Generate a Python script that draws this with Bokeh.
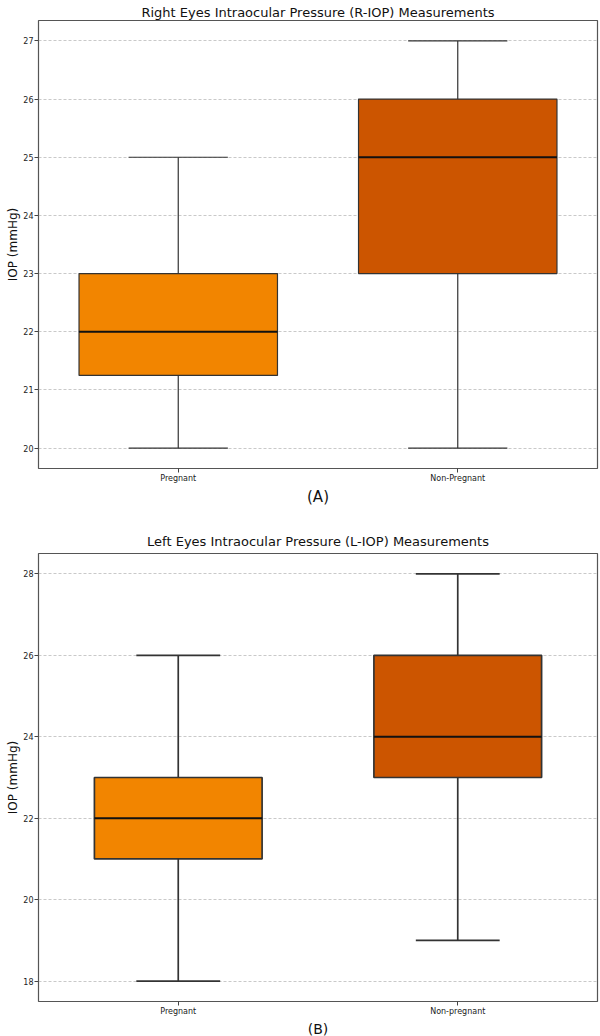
from bokeh.plotting import figure
from bokeh.layouts import column
from bokeh.models import Range1d, FixedTicker, Title
from bokeh.embed import file_html
from bokeh.resources import INLINE

# Panel A: Right eyes
cats_a = ["Pregnant", "Non-Pregnant"]
low_a = [20, 20]
q1_a = [21.25, 23]
med_a = [22, 25]
q3_a = [23, 26]
high_a = [25, 27]
yticks_a = [20, 21, 22, 23, 24, 25, 26, 27]

# Panel B: Left eyes
cats_b = ["Pregnant", "Non-pregnant"]
low_b = [18, 19]
q1_b = [21, 23]
med_b = [22, 24]
q3_b = [23, 26]
high_b = [26, 28]
yticks_b = [18, 20, 22, 24, 26, 28]

colors = ["#F28500", "#CC5500"]
FONT = "DejaVu Sans"


def make_panel(title, tag, cats, low, q1, med, q3, high, yticks, yr, width, height,
               bw, lw, mlw, left, top, bottom, title_standoff, tag_size):
    p = figure(width=width, height=height, output_backend="svg", toolbar_location=None,
               x_range=Range1d(0, len(cats)), y_range=Range1d(*yr),
               min_border_left=left, min_border_right=3, min_border_top=top,
               min_border_bottom=bottom)
    p.title.text = title
    p.title.align = "center"
    p.title.text_font = FONT
    p.title.text_font_size = "13px"
    p.title.text_font_style = "normal"
    p.title.text_color = "#111111"
    p.title.standoff = title_standoff
    p.add_layout(Title(text=tag, align="center", text_font=FONT, text_font_size=tag_size,
                       text_font_style="normal", text_color="#111111", standoff=0), "below")

    xs = [i + 0.5 for i in range(len(cats))]
    cap = bw / 2
    lc = "#333333"
    # whiskers
    p.segment(x0=xs, x1=xs, y0=q3, y1=high, line_color=lc, line_width=lw)
    p.segment(x0=xs, x1=xs, y0=low, y1=q1, line_color=lc, line_width=lw)
    p.segment(x0=[x - cap / 2 for x in xs], x1=[x + cap / 2 for x in xs], y0=high, y1=high,
              line_color=lc, line_width=lw)
    p.segment(x0=[x - cap / 2 for x in xs], x1=[x + cap / 2 for x in xs], y0=low, y1=low,
              line_color=lc, line_width=lw)
    # boxes
    p.vbar(x=xs, width=bw, bottom=q1, top=q3, fill_color=colors, line_color=lc, line_width=lw)
    # medians
    p.segment(x0=[x - bw / 2 for x in xs], x1=[x + bw / 2 for x in xs], y0=med, y1=med,
              line_color="#111111", line_width=mlw)

    p.xaxis.ticker = FixedTicker(ticks=xs)
    p.xaxis.major_label_overrides = {x: c for x, c in zip(xs, cats)}
    p.yaxis.ticker = FixedTicker(ticks=yticks)
    p.yaxis.axis_label = "IOP (mmHg)"
    p.yaxis.axis_label_text_font = FONT
    p.yaxis.axis_label_text_font_size = "12px"
    p.yaxis.axis_label_text_font_style = "normal"
    p.yaxis.axis_label_text_color = "#111111"
    p.yaxis.axis_label_standoff = 0
    for ax in (p.xaxis[0], p.yaxis[0]):
        ax.major_label_text_font = FONT
        ax.major_label_text_font_size = "8px"
        ax.major_label_text_color = "#222222"
        ax.major_tick_out = 4
        ax.major_tick_in = 0
        ax.minor_tick_out = 0
        ax.minor_tick_in = 0
        ax.major_tick_line_color = "#444444"
        ax.axis_line_color = None
        ax.major_label_standoff = 1
    p.xgrid.grid_line_color = None
    p.ygrid.grid_line_color = "#bbbbbb"
    p.ygrid.grid_line_dash = "3 2"
    p.ygrid.grid_line_width = 0.8
    p.outline_line_color = "#555555"
    p.outline_line_width = 1.2
    p.outline_line_alpha = 1
    p.background_fill_color = "white"
    p.border_fill_color = "white"
    return p


pa = make_panel("Right Eyes Intraocular Pressure (R-IOP) Measurements", "(A)", cats_a,
                low_a, q1_a, med_a, q3_a, high_a, yticks_a, (19.65, 27.35),
                600, 510, 0.71, 1.2, 2.0, 34, 20, 42, 2, "15px")
pb = make_panel("Left Eyes Intraocular Pressure (L-IOP) Measurements", "(B)", cats_b,
                low_b, q1_b, med_b, q3_b, high_b, yticks_b, (17.5, 28.5),
                600, 526, 0.6, 1.7, 2.2, 38, 43, 33, 10, "14px")

layout = column(pa, pb, spacing=0)
open("out.html", "w").write(file_html(layout, INLINE))
